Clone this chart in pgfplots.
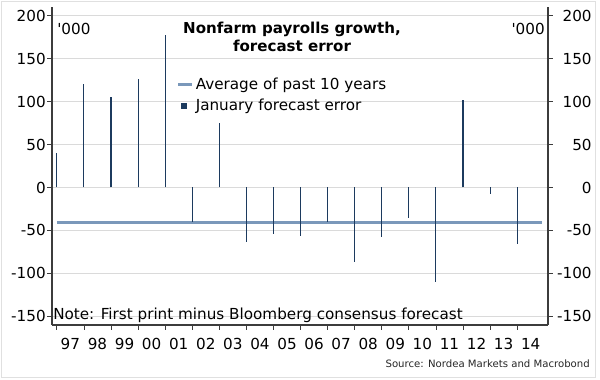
\documentclass[border=0pt]{standalone}
\usepackage{pgfplots}
\pgfplotsset{compat=1.18}
\usepackage{fontspec}
\setmainfont{DejaVu Sans}[Ligatures=TeXOff]
\definecolor{navy}{RGB}{28,58,94}
\definecolor{avgc}{RGB}{122,152,186}
\definecolor{gridc}{RGB}{218,218,218}
\definecolor{axc}{RGB}{60,60,60}
\pgfplotsset{myax/.style={
  scale only axis, width=372pt, height=238.5pt,
  xmin=1996.82, xmax=2015.14, ymin=-160, ymax=210,
  at={(39pt,40.5pt)}, anchor=south west,
  ytick={-150,-100,-50,0,50,100,150,200},
  tick align=outside, major tick length=3.5pt,
  tick style={axc, line width=0.6pt},
  axis line style={axc, line width=0.8pt},
  /pgf/number format/assume math mode=true,
  tick label style={font=\fontsize{11.4pt}{13pt}\selectfont, text=black},
}}
\begin{document}
\begin{tikzpicture}
\begin{scope}[x=0.75pt,y=-0.75pt,shift={(0pt,284.25pt)}]
\path[use as bounding box] (0,0) rectangle (600,379);
\draw[black!12, line width=0.6pt] (1.5,1) rectangle (595,377.5);
\end{scope}
\begin{axis}[myax,
  axis x line*=bottom, axis y line*=left,
  ymajorgrids, grid style={gridc, line width=0.6pt},
  xtick={1997,1998,1999,2000,2001,2002,2003,2004,2005,2006,2007,2008,2009,2010,2011,2012,2013,2014},
  xticklabels={},
  extra x ticks={1997.5,1998.5,1999.5,2000.5,2001.5,2002.5,2003.5,2004.5,2005.5,2006.5,2007.5,2008.5,2009.5,2010.5,2011.5,2012.5,2013.5,2014.5},
  extra x tick labels={97,98,99,00,01,02,03,04,05,06,07,08,09,10,11,12,13,14},
  extra x tick style={major tick length=0pt, grid=none, xticklabel style={yshift=-6.5pt}},
  yticklabel style={inner sep=1pt},
  legend style={at={(0.248,0.79)}, anchor=north west, draw=none, fill=none,
    font=\fontsize{11.4pt}{13pt}\selectfont, row sep=1.5pt, inner sep=1pt},
  legend cell align=left,
]
\addplot[avgc, line width=2.4pt, no markers,
  legend image code/.code={\draw[avgc, line width=2.4pt] (0pt,0pt) -- (10pt,0pt);}]
  coordinates {(1997,-41) (2014.92,-41)};
\addlegendentry{Average of past 10 years}
\addplot[ycomb, navy, line width=0.8pt, no markers,
  legend image code/.code={\fill[navy] (2.5pt,-2pt) rectangle (6pt,2pt);}]
  coordinates {(1997,40) (1998,120) (1999,105) (2000,126) (2001,177) (2002,-40)
  (2003,75) (2004,-63) (2005,-54) (2006,-57) (2007,-40) (2008,-87) (2009,-58)
  (2010,-35) (2011,-110) (2012,102) (2013,-8) (2014,-66)};
\addlegendentry{January forecast error}
\end{axis}
\begin{axis}[myax,
  axis x line=none, axis y line*=right,
  yticklabel style={text width=28pt, align=right, inner sep=1pt},
]
\addplot[draw=none] coordinates {(1997,0)};
\end{axis}
\begin{scope}[x=0.75pt,y=-0.75pt,shift={(0pt,284.25pt)}]
\node[align=center, font=\bfseries\fontsize{11.3pt}{13.5pt}\selectfont] at (292,37) {Nonfarm payrolls growth,\\forecast error};
\node[anchor=west, inner sep=0pt, font=\fontsize{11.4pt}{13pt}\selectfont] at (57,29) {'000};
\node[anchor=east, inner sep=0pt, font=\fontsize{11.4pt}{13pt}\selectfont] at (545,29) {'000};
\node[anchor=west, inner sep=0pt, font=\fontsize{11.4pt}{13pt}\selectfont] at (53,315) {Note: First print minus Bloomberg consensus forecast};
\node[anchor=east, inner sep=0pt, font=\fontsize{7.6pt}{9pt}\selectfont, text=black!85] at (590,364) {Source: Nordea Markets and Macrobond};
\end{scope}
\end{tikzpicture}
\end{document}
